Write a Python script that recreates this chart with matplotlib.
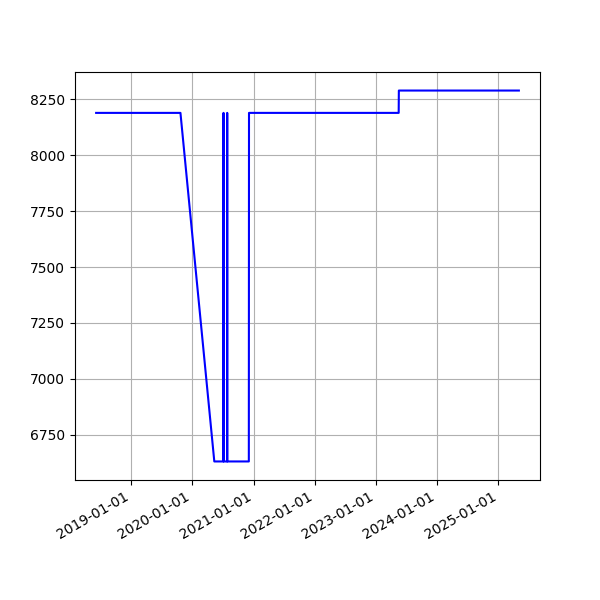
import matplotlib
matplotlib.use("Agg")
import matplotlib.pyplot as plt
import matplotlib.dates as mdates
import pandas as pd

dates = ["2018-06-07", "2019-10-23", "2020-05-12", "2020-07-05", "2020-07-06",
         "2020-07-07", "2020-07-27", "2020-07-28", "2020-07-29", "2020-12-04",
         "2020-12-05", "2023-05-17", "2023-05-18", "2025-05-03"]
values = [8190, 8190, 6630, 6630, 8190,
          6630, 6630, 8190, 6630, 6630,
          8190, 8190, 8290, 8290]

x = pd.to_datetime(dates)

fig, ax = plt.subplots(figsize=(6, 6), dpi=100)
ax.plot(x, values, color="blue")
ax.grid(True)
ax.xaxis.set_major_locator(mdates.YearLocator())
ax.xaxis.set_major_formatter(mdates.DateFormatter("%Y-%m-%d"))
fig.autofmt_xdate()
fig.savefig("out.png")
